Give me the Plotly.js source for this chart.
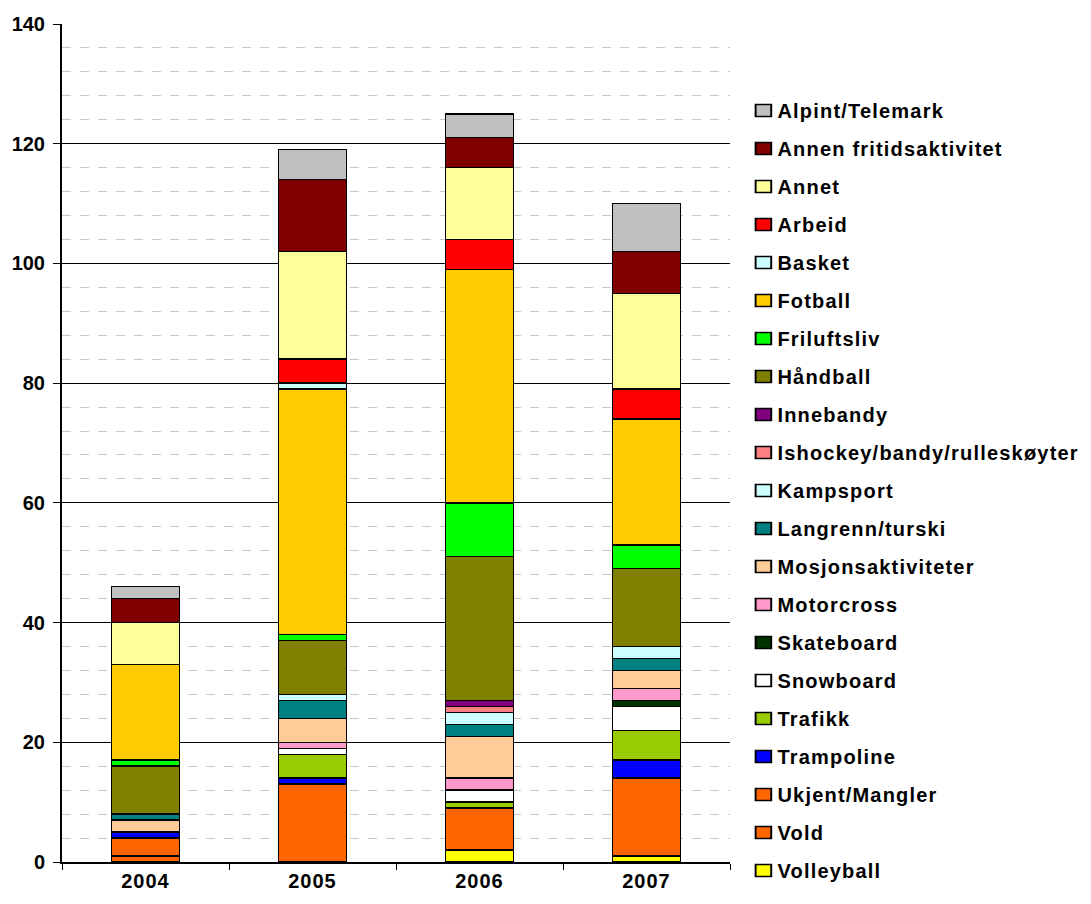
<!DOCTYPE html>
<html>
<head>
<meta charset="utf-8">
<script src="https://cdn.plot.ly/plotly-3.0.1.min.js"></script>
<style>
html,body{margin:0;padding:0;background:#fff;}
#chart{width:1091px;height:904px;}
.legendtext{letter-spacing:1.2px;}
.xtick text{letter-spacing:1px;}
#chart .legend .legendpoints{transform:scale(1.3,1);}
</style>
</head>
<body>
<div id="chart"></div>
<script>
const years = ["2004", "2005", "2006", "2007"];

// series listed bottom of stack -> top of stack
const seriesNames = [
  "Volleyball", "Vold", "Ukjent/Mangler", "Trampoline", "Trafikk", "Snowboard",
  "Skateboard", "Motorcross", "Mosjonsaktiviteter", "Langrenn/turski", "Kampsport",
  "Ishockey/bandy/rulleskøyter", "Innebandy", "Håndball", "Friluftsliv", "Fotball",
  "Basket", "Arbeid", "Annet", "Annen fritidsaktivitet", "Alpint/Telemark"
];

const volleyball   = [0, 0, 2, 1];
const vold         = [1, 0, 0, 0];
const ukjent       = [3, 13, 7, 13];
const trampoline   = [1, 1, 0, 3];
const trafikk      = [0, 4, 1, 5];
const snowboard    = [0, 1, 2, 4];
const skateboard   = [0, 0, 0, 1];
const motorcross   = [0, 1, 2, 2];
const mosjon       = [2, 4, 7, 3];
const langrenn     = [1, 3, 2, 2];
const kampsport    = [0, 1, 2, 2];
const ishockey     = [0, 0, 1, 0];
const innebandy    = [0, 0, 1, 0];
const handball     = [8, 9, 24, 13];
const friluftsliv  = [1, 1, 9, 4];
const fotball      = [16, 41, 39, 21];
const basket       = [0, 1, 0, 0];
const arbeid       = [0, 4, 5, 5];
const annet        = [7, 18, 12, 16];
const annenFritid  = [4, 12, 5, 7];
const alpint       = [2, 5, 4, 8];

const seriesValues = [
  volleyball, vold, ukjent, trampoline, trafikk, snowboard, skateboard, motorcross,
  mosjon, langrenn, kampsport, ishockey, innebandy, handball, friluftsliv, fotball,
  basket, arbeid, annet, annenFritid, alpint
];

const seriesColors = [
  "#FFFF00", "#FF6600", "#FF6600", "#0000FF", "#99CC00", "#FFFFFF",
  "#003300", "#FF99CC", "#FFCC99", "#008080", "#CCFFFF",
  "#FF8080", "#800080", "#808000", "#00FF00", "#FFCC00",
  "#CCFFFF", "#FF0000", "#FFFF99", "#800000", "#C0C0C0"
];

const FONT = "Liberation Sans, Arial, sans-serif";

const traces = seriesNames.map((name, i) => ({
  type: "bar",
  name: name,
  x: years,
  y: seriesValues[i].map(v => (v === 0 ? null : v)),
  legendgroup: "g" + i,
  legendrank: seriesNames.length - i,
  marker: { color: seriesColors[i], line: { color: "#000000", width: 1.5 } },
  hoverinfo: "none"
}));

const layout = {
  width: 1091,
  height: 904,
  paper_bgcolor: "#FFFFFF",
  plot_bgcolor: "#FFFFFF",
  margin: { l: 62, r: 361, t: 24, b: 42, autoexpand: false },
  barmode: "stack",
  bargap: 0.59,
  font: { family: FONT, color: "#000000", size: 20 },
  showlegend: true,
  legend: {
    x: 1.0111, xanchor: "left",
    y: 0.920, yanchor: "top",
    traceorder: "grouped",
    tracegroupgap: 9,
    maxheight: 900,
    font: { size: 20, family: FONT, weight: "bold" },
    itemwidth: 30,
    bgcolor: "rgba(0,0,0,0)"
  },
  xaxis: {
    type: "category",
    showline: true, linecolor: "#000000", linewidth: 2,
    ticks: "outside", tickson: "boundaries", ticklen: 6, tickcolor: "#000000", tickwidth: 1,
    tickfont: { size: 20, family: FONT, weight: "bold" },
    showgrid: false,
    automargin: false,
    fixedrange: true
  },
  yaxis: {
    range: [0, 140],
    dtick: 20,
    showline: true, linecolor: "#000000", linewidth: 2,
    ticks: "outside", ticklen: 7, tickcolor: "#000000",
    ticklabelstandoff: 4,
    tickfont: { size: 20, family: FONT, weight: "bold" },
    showgrid: true, gridcolor: "#000000", gridwidth: 1,
    zeroline: false,
    automargin: false,
    minor: { dtick: 4, showgrid: true, gridcolor: "#C8C8C8", griddash: "dash", gridwidth: 1 },
    fixedrange: true
  }
};

Plotly.newPlot("chart", traces, layout, { staticPlot: true, displayModeBar: false });
</script>
</body>
</html>
